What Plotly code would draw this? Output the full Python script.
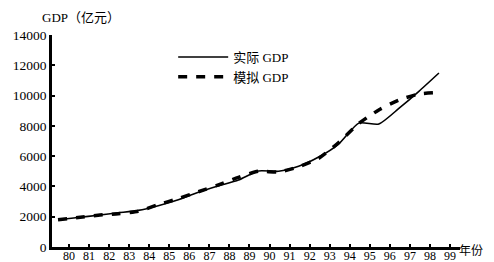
import plotly.graph_objects as go

years = list(range(1980, 2000))
year_labels = ["80", "81", "82", "83", "84", "85", "86", "87", "88", "89",
               "90", "91", "92", "93", "94", "95", "96", "97", "98", "99"]
actual_gdp = [1800, 1950, 2100, 2260, 2420, 2730, 3120, 3620, 4030, 4420,
              5020, 5000, 5330, 5940, 6800, 8180, 8120, 9150, 10280, 11490]
simulated_gdp = [1800, 1950, 2100, 2200, 2350, 2800, 3200, 3650, 4100, 4600,
                 5000, 4950, 5300, 5850, 6900, 8150, 9050, 9700, 10100, 10200]
y_ticks = [0, 2000, 4000, 6000, 8000, 10000, 12000, 14000]
y_tick_labels = ["0", "2000", "4000", "6000", "8000", "10000", "12000", "14000"]

FONT = "Liberation Serif, Noto Sans CJK SC, serif"

# the page body has an 8px default margin, so the figure is sized to fit the window
PLOT_W, PLOT_H = 408, 212

fig = go.Figure()
fig.add_trace(go.Scatter(
    x=years, y=actual_gdp, mode="lines", name="实际 GDP",
    line=dict(color="black", width=1.6, shape="spline", smoothing=0.6),
))
fig.add_trace(go.Scatter(
    x=years, y=simulated_gdp, mode="lines", name="模拟 GDP",
    line=dict(color="black", width=3.5, dash="9px,9px", shape="spline", smoothing=0.6),
))

fig.update_layout(
    width=486, height=254,
    margin=dict(l=44, r=34, t=27, b=15, pad=0, autoexpand=False),
    paper_bgcolor="white", plot_bgcolor="white",
    font=dict(family=FONT, color="black", size=13),
    showlegend=True,
    legend=dict(
        x=0.297, y=0.967, xanchor="left", yanchor="top",
        bgcolor="rgba(0,0,0,0)", borderwidth=0,
        font=dict(family=FONT, size=13, color="black"),
        itemwidth=50, tracegroupgap=0,
    ),
    xaxis=dict(
        range=[1979.7, 2000.05],
        tickmode="array",
        tickvals=[y + 0.55 for y in years],
        ticktext=year_labels,
        ticks="inside", ticklen=3, tickwidth=1.5, tickcolor="black",
        showline=True, linecolor="black", linewidth=2.5,
        showgrid=False, zeroline=False,
        tickfont=dict(family=FONT, size=12, color="black"),
        ticklabelstandoff=-4,
        automargin=False,
    ),
    yaxis=dict(
        range=[0, 14000],
        tickmode="array", tickvals=y_ticks, ticktext=y_tick_labels,
        ticks="inside", ticklen=3, tickwidth=1.5, tickcolor="black",
        showline=True, linecolor="black", linewidth=2.5,
        showgrid=False, zeroline=False,
        tickfont=dict(family=FONT, size=13.5, color="black"),
        automargin=False,
    ),
    annotations=[
        dict(text="GDP（亿元）", xref="paper", yref="paper",
             x=(40 - 52) / PLOT_W, y=1 + (35 - 18) / PLOT_H, xanchor="left", yanchor="middle",
             showarrow=False, font=dict(family=FONT, size=13, color="black")),
        dict(text="年份", xref="paper", yref="paper",
             x=(484 - 52) / PLOT_W, y=-(251 - 247) / PLOT_H, xanchor="right", yanchor="middle",
             showarrow=False, borderpad=0, font=dict(family=FONT, size=12, color="black")),
    ],
)

fig.write_html("out.html")
